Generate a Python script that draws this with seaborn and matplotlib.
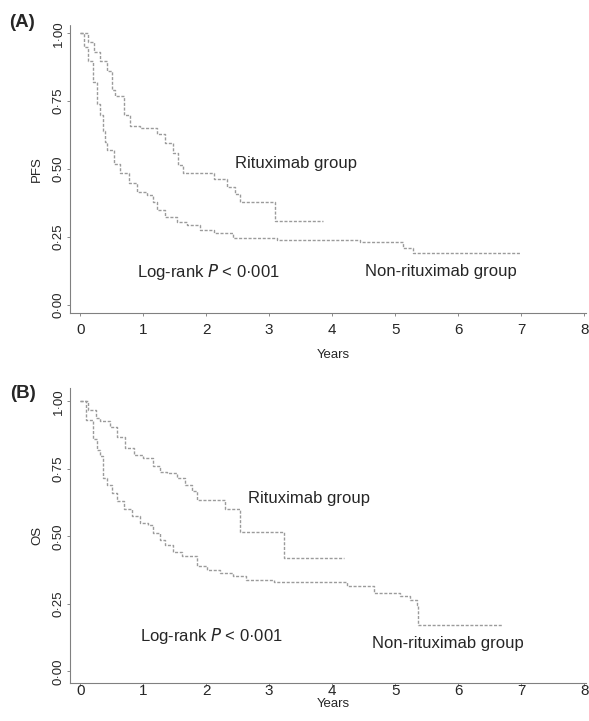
import matplotlib
matplotlib.use("Agg")
import matplotlib.pyplot as plt
import seaborn as sns
import pandas as pd

# --- data (years, survival probability) ---
pfs_ritux_years = [0, 0.13, 0.22, 0.32, 0.42, 0.5, 0.56, 0.69, 0.79, 0.95, 1.22, 1.35,
                   1.48, 1.56, 1.64, 2.12, 2.33, 2.45, 2.54, 3.1, 3.86]
pfs_ritux_surv = [1.0, 0.97, 0.93, 0.90, 0.86, 0.79, 0.77, 0.70, 0.66, 0.65, 0.63, 0.595,
                  0.56, 0.515, 0.485, 0.465, 0.435, 0.41, 0.38, 0.31, 0.31]

pfs_nonritux_years = [0, 0.06, 0.12, 0.2, 0.27, 0.32, 0.37, 0.4, 0.42, 0.53, 0.63, 0.77,
                      0.9, 1.06, 1.16, 1.22, 1.35, 1.54, 1.7, 1.9, 2.12, 2.43, 3.12,
                      4.44, 5.13, 5.29, 6.98]
pfs_nonritux_surv = [1.0, 0.95, 0.90, 0.82, 0.74, 0.70, 0.64, 0.60, 0.57, 0.52, 0.485, 0.45,
                     0.415, 0.405, 0.38, 0.35, 0.325, 0.305, 0.295, 0.275, 0.265, 0.245, 0.24,
                     0.23, 0.21, 0.19, 0.19]

os_ritux_years = [0, 0.13, 0.25, 0.32, 0.48, 0.58, 0.71, 0.85, 1.0, 1.16, 1.27, 1.38,
                  1.54, 1.67, 1.77, 1.85, 2.3, 2.54, 3.23, 4.18]
os_ritux_surv = [1.0, 0.97, 0.94, 0.926, 0.907, 0.87, 0.827, 0.80, 0.79, 0.76, 0.74, 0.735,
                 0.716, 0.69, 0.667, 0.636, 0.60, 0.515, 0.42, 0.42]

os_nonritux_years = [0, 0.1, 0.2, 0.26, 0.32, 0.37, 0.42, 0.5, 0.58, 0.69, 0.82, 0.95,
                     1.08, 1.16, 1.27, 1.35, 1.48, 1.61, 1.85, 2.01, 2.22, 2.43, 2.64,
                     3.07, 3.49, 4.23, 4.66, 5.08, 5.24, 5.34, 5.37, 6.69]
os_nonritux_surv = [1.0, 0.93, 0.86, 0.82, 0.796, 0.716, 0.69, 0.66, 0.63, 0.60, 0.574, 0.55,
                    0.543, 0.512, 0.488, 0.469, 0.444, 0.426, 0.389, 0.377, 0.364, 0.352, 0.34,
                    0.333, 0.333, 0.315, 0.29, 0.278, 0.265, 0.247, 0.173, 0.173]

x_ticks = [0, 1, 2, 3, 4, 5, 6, 7, 8]
y_ticks = [0.0, 0.25, 0.5, 0.75, 1.0]
y_ticklabels = ["0·00", "0·25", "0·50", "0·75", "1·00"]

sns.set_style("ticks")
plt.rcParams["font.family"] = ["Liberation Sans", "DejaVu Sans"]

fig = plt.figure(figsize=(5.89, 7.21), dpi=100)
ax_a = fig.add_axes([0.119, 0.566, 0.876, 0.399])
ax_b = fig.add_axes([0.119, 0.053, 0.876, 0.409])

curve_color = "#9b9b9b"
dash = (0, (2.2, 1.2))


def km_panel(ax, ritux_x, ritux_y, non_x, non_y, ylabel, ylim, years_y, xpad):
    for xs, ys in [(ritux_x, ritux_y), (non_x, non_y)]:
        d = pd.DataFrame({"years": xs, "surv": ys})
        sns.lineplot(data=d, x="years", y="surv", ax=ax, estimator=None,
                     drawstyle="steps-post", color=curve_color, lw=1.0,
                     linestyle=dash)
    ax.set_xlim(-0.16, 8.03)
    ax.set_ylim(*ylim)
    ax.set_xticks(x_ticks)
    ax.set_xticklabels([str(t) for t in x_ticks], fontsize=11)
    ax.set_yticks(y_ticks)
    ax.set_yticklabels(y_ticklabels, fontsize=9.5, rotation=90, va="center")
    ax.tick_params(axis="both", length=2, width=0.6, color="#777777", pad=2)
    ax.tick_params(axis="x", pad=xpad)
    ax.set_ylabel(ylabel, fontsize=9.5)
    ax.yaxis.set_label_coords(-0.052, 0.5)
    ax.set_xlabel("Years", fontsize=9.5)
    ax.xaxis.set_label_coords(0.51, years_y)
    for s in ["top", "right"]:
        ax.spines[s].set_visible(False)
    for s in ["left", "bottom"]:
        ax.spines[s].set_color("#808080")
        ax.spines[s].set_linewidth(0.8)
        ax.spines[s].set_linestyle((0, (3, 1)))


km_panel(ax_a, pfs_ritux_years, pfs_ritux_surv, pfs_nonritux_years, pfs_nonritux_surv,
         "PFS", (-0.03, 1.03), -0.125, 5)
km_panel(ax_b, os_ritux_years, os_ritux_surv, os_nonritux_years, os_nonritux_surv,
         "OS", (-0.042, 1.05), -0.05, -1.2)

ax_a.text(2.46, 0.52, "Rituximab group", fontsize=12, va="center")
ax_a.text(0.9, 0.119, "Log-rank $\\it{P}$ < 0·001", fontsize=12, va="center")
ax_a.text(4.52, 0.122, "Non-rituximab group", fontsize=12, va="center")

ax_b.text(2.67, 0.64, "Rituximab group", fontsize=12, va="center")
ax_b.text(0.95, 0.13, "Log-rank $\\it{P}$ < 0·001", fontsize=12, va="center")
ax_b.text(4.63, 0.105, "Non-rituximab group", fontsize=12, va="center")

fig.text(0.015, 0.969, "(A)", fontsize=13.5, fontweight="bold", va="center")
fig.text(0.018, 0.454, "(B)", fontsize=13.5, fontweight="bold", va="center")

fig.savefig("out.png", dpi=100)
